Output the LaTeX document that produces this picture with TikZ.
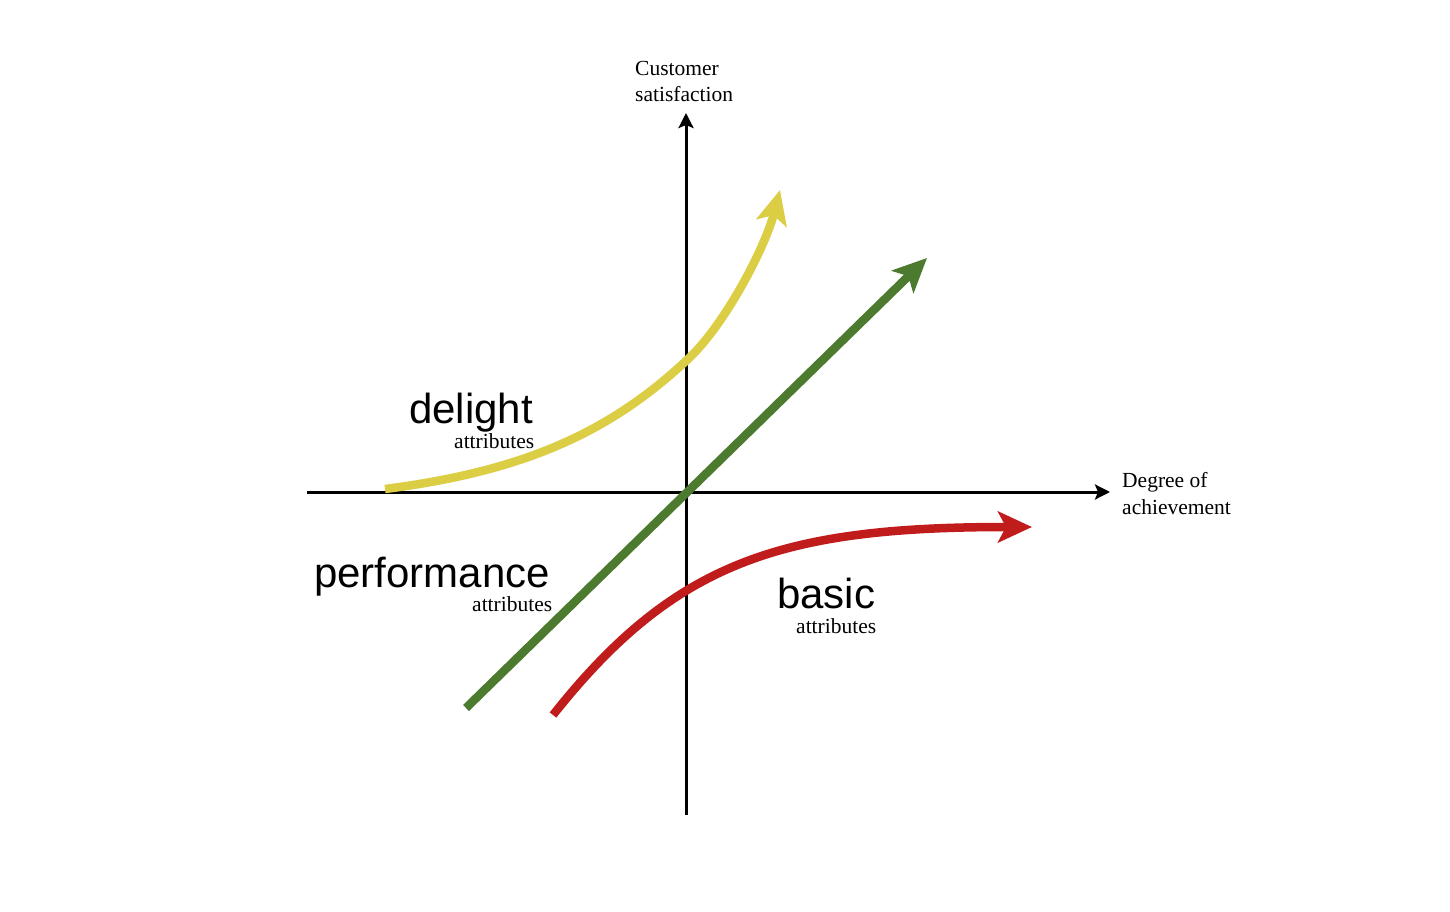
\documentclass[tikz,border=0pt]{standalone}
\usepackage{fontspec}
\setmainfont{Liberation Serif}
\newfontfamily\bigsans{Liberation Sans}
\usetikzlibrary{arrows.meta}
\definecolor{cyellow}{RGB}{220,206,68}
\definecolor{cgreen}{RGB}{76,122,46}
\definecolor{cred}{RGB}{192,28,28}
\tikzset{
  axis/.style={line width=3pt,-{Stealth[length=15pt,width=15pt,inset=3pt]}},
  curve/.style={line width=8.5pt,-{Stealth[length=34pt,width=31pt,inset=8pt]}},
  biglab/.style={anchor=base west,inner sep=0pt,font=\bigsans\fontsize{42}{48}\selectfont},
  smalllab/.style={anchor=base west,inner sep=0pt,font=\fontsize{21.5}{26}\selectfont},
  axlab/.style={anchor=base west,inner sep=0pt,align=left,font=\fontsize{21.5}{26.5}\selectfont}
}
\begin{document}
\begin{tikzpicture}[x=1pt,y=-1pt]
\useasboundingbox[fill=white] (0,0) rectangle (1450,912);
% axes
\coordinate (xs) at (307,492);
\coordinate (xe) at (1110,492);
\coordinate (ys) at (686,815);
\coordinate (ye) at (686,113);
\draw[axis] (xs) -- (xe);
\draw[axis] (ys) -- (ye);
% curves
\coordinate (y0) at (385,489);
\coordinate (y1) at (687,360);
\coordinate (y2) at (780,190);
\draw[curve,cyellow] (y0) .. controls (525,471) and (610,432) .. (y1)
  .. controls (724,326.5) and (765,248) .. (y2);
\coordinate (gs) at (466,708);
\coordinate (ge) at (927,258);
\draw[curve,cgreen] (gs) -- (ge);
\coordinate (r0) at (553,715);
\coordinate (r2) at (1032,527);
\draw[curve,cred] (r0) .. controls (675,561) and (782,527) .. (r2);
% labels
\node[axlab] (ylab) at (635,102) {Customer\\satisfaction};
\node[axlab] (xlab) at (1122,514) {Degree of\\achievement};
\node[biglab] (dl) at (409,423) {delight};
\node[smalllab] (dla) at (454,448) {attributes};
\node[biglab] (pf) at (314,587) {performance};
\node[smalllab] (pfa) at (472,611) {attributes};
\node[biglab] (bs) at (777,608) {basic};
\node[smalllab] (bsa) at (796,633) {attributes};
\end{tikzpicture}
\end{document}
